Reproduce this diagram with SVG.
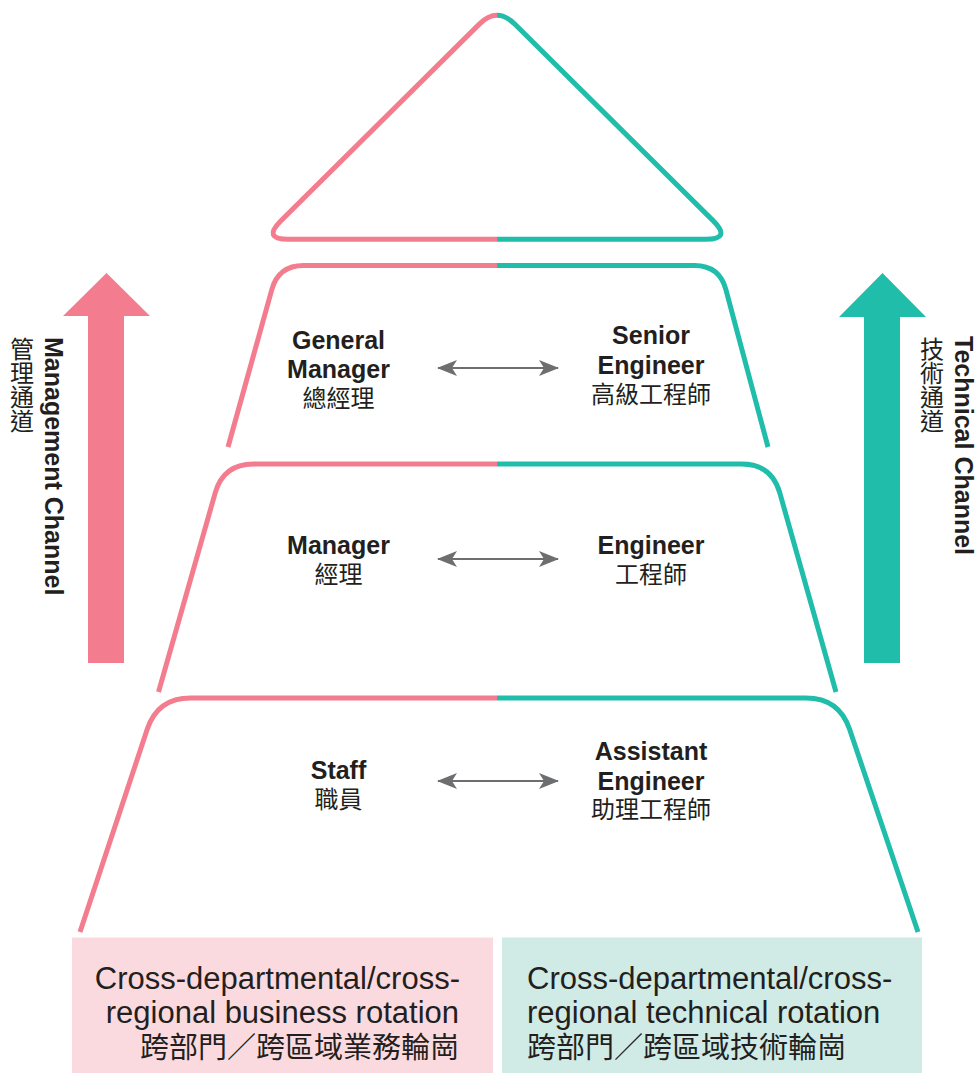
<svg xmlns="http://www.w3.org/2000/svg" width="976" height="1073" viewBox="0 0 976 1073">
<style>
.pk{fill:none;stroke:#F37D8F;stroke-width:5}
.tl{fill:none;stroke:#21BDAB;stroke-width:5}
.lb{font-family:"Liberation Sans",Arial,"Noto Sans CJK TC",sans-serif;font-weight:bold;font-size:25px;fill:#231F20;text-anchor:middle}
.cj{font-family:"Noto Sans CJK TC",sans-serif;font-size:24px;fill:#231F20;text-anchor:middle}
.vt{font-family:"Noto Sans CJK TC",sans-serif;font-size:24px;fill:#231F20;writing-mode:vertical-rl;text-orientation:upright}
.bt{font-family:"Liberation Sans",Arial,"Noto Sans CJK TC",sans-serif;font-size:31px;fill:#231F20}
.bc{font-family:"Noto Sans CJK TC",sans-serif;font-size:29px;fill:#231F20}
.dx{stroke:#6D6E70;stroke-width:2.2;fill:none}
</style>
<defs>
<marker id="ah" viewBox="0 0 20 16" refX="19" refY="8" markerWidth="20" markerHeight="16" markerUnits="userSpaceOnUse" orient="auto-start-reverse">
<path d="M0,0 L20,8 L0,16 L5,8 Z" fill="#6D6E70"/>
</marker>
</defs>

<g id="top-triangle">
<path class="pk" d="M497,239.3 L288.3,239.3 Q262.3,239.3 280.7,220.9 L479.3,24.1 Q488.15,15.25 497,15.25"/>
<path class="tl" d="M497,15.25 Q505.85,15.25 514.7,24.1 L713.3,220.9 Q731.7,239.3 705.7,239.3 L497,239.3"/>
</g>

<g id="level-general-manager">
<path class="pk" d="M228,447 L271.8,289.6 Q278.5,265.5 303.5,265.5 L497,265.5"/>
<path class="tl" d="M497,265.5 L694.5,265.5 Q719.5,265.5 725.9,289.7 L768,447"/>
<text class="lb" x="338.5" y="349">General</text>
<text class="lb" x="338.5" y="378">Manager</text>
<text class="cj" x="338.5" y="407">總經理</text>
<text class="lb" x="651" y="344">Senior</text>
<text class="lb" x="651" y="374">Engineer</text>
<text class="cj" x="651" y="403">高級工程師</text>
</g>

<g id="level-manager">
<path class="pk" d="M158.5,692 L215.2,492.9 Q223.4,464 253.4,464 L497,464"/>
<path class="tl" d="M497,464 L741.6,464 Q771.6,464 779.8,492.9 L836,692"/>
<text class="lb" x="338.5" y="554">Manager</text>
<text class="cj" x="338.5" y="583">經理</text>
<text class="lb" x="651" y="554">Engineer</text>
<text class="cj" x="651" y="583">工程師</text>
</g>

<g id="level-staff">
<path class="pk" d="M80,932 L147.2,729.3 Q157.6,698 190.6,698 L497,698"/>
<path class="tl" d="M497,698 L806,698 Q839,698 849.6,729.3 L918,932"/>
<text class="lb" x="338.5" y="779">Staff</text>
<text class="cj" x="338.5" y="808">職員</text>
<text class="lb" x="651" y="760">Assistant</text>
<text class="lb" x="651" y="790">Engineer</text>
<text class="cj" x="651" y="818">助理工程師</text>
</g>

<g id="connectors">
<line class="dx" x1="438" y1="368" x2="558" y2="368" marker-start="url(#ah)" marker-end="url(#ah)"/>
<line class="dx" x1="438" y1="559" x2="558" y2="559" marker-start="url(#ah)" marker-end="url(#ah)"/>
<line class="dx" x1="438" y1="781" x2="558" y2="781" marker-start="url(#ah)" marker-end="url(#ah)"/>
</g>

<g id="management-channel">
<path fill="#F37D8F" d="M88,663 L88,316 L63,316 L106.5,273 L150,316 L124,316 L124,663 Z"/>
<text class="lb" style="text-anchor:start" transform="translate(44.5,337) rotate(90)">Management Channel</text>
<text class="vt" x="22" y="337">管理通道</text>
</g>

<g id="technical-channel">
<path fill="#21BDAB" d="M864,663 L864,317 L839,317 L882.5,273 L926,317 L900,317 L900,663 Z"/>
<text class="lb" style="text-anchor:start" transform="translate(954.5,336) rotate(90)">Technical Channel</text>
<text class="vt" x="932" y="337">技術通道</text>
</g>

<g id="business-rotation">
<rect x="72" y="937.5" width="421" height="135.5" fill="#FBDADF"/>
<text class="bt" x="460" y="989" text-anchor="end">Cross-departmental/cross-</text>
<text class="bt" x="459" y="1023" text-anchor="end">regional business rotation</text>
<text class="bc" x="459" y="1058" text-anchor="end">跨部門／跨區域業務輪崗</text>
</g>

<g id="technical-rotation">
<rect x="502" y="937.5" width="420" height="135.5" fill="#D0EBE6"/>
<text class="bt" x="527" y="989">Cross-departmental/cross-</text>
<text class="bt" x="527" y="1023">regional technical rotation</text>
<text class="bc" x="527" y="1058">跨部門／跨區域技術輪崗</text>
</g>
</svg>
